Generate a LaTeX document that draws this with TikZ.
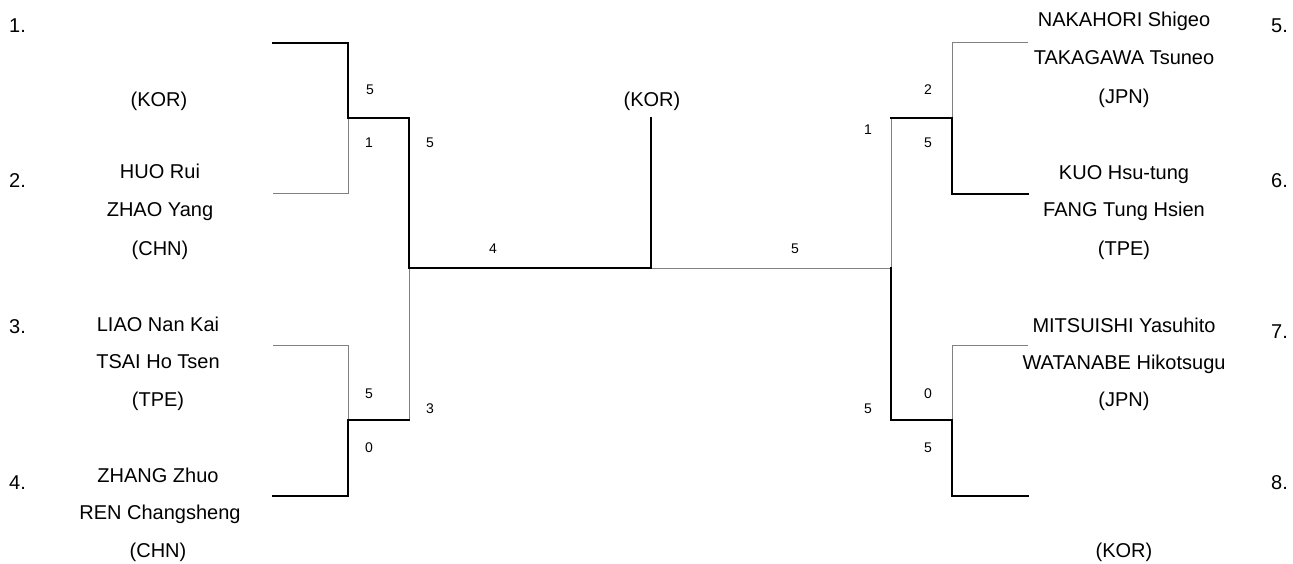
\documentclass[tikz,border=0pt]{standalone}
\usepackage{fontspec}
\setmainfont{Liberation Sans}
\tikzset{
  win/.style={line width=2pt,black,line cap=rect},
  lose/.style={line width=1pt,black!50},
  pname/.style={font=\fontsize{20}{20}\selectfont,inner sep=0pt,anchor=base},
  seed/.style={font=\fontsize{20}{20}\selectfont,inner sep=0pt,anchor=base west},
  score/.style={font=\fontsize{14}{14}\selectfont,inner sep=0pt,anchor=base},
}
\begin{document}
\begin{tikzpicture}[x=1pt,y=-1pt]
\useasboundingbox (0,0) rectangle (1293,564);

% ---- bracket points ----
% left
\coordinate (p1) at (273,43);
\coordinate (p2) at (273,194);
\coordinate (p3) at (273,345);
\coordinate (p4) at (273,496);
\coordinate (a1) at (348,43);
\coordinate (a2) at (348,194);
\coordinate (a3) at (348,345);
\coordinate (a4) at (348,496);
\coordinate (m12) at (348,118);
\coordinate (m34) at (348,420);
\coordinate (s1) at (409,118);
\coordinate (s2) at (409,420);
\coordinate (sL) at (409,268);
% centre
\coordinate (fC) at (651,268);
\coordinate (fT) at (651,118);
% right
\coordinate (sR) at (891,268);
\coordinate (s3) at (891,118);
\coordinate (s4) at (891,420);
\coordinate (m56) at (952,118);
\coordinate (m78) at (952,420);
\coordinate (b5) at (952,43);
\coordinate (b6) at (952,194);
\coordinate (b7) at (952,345);
\coordinate (b8) at (952,496);
\coordinate (p5) at (1028,43);
\coordinate (p6) at (1028,194);
\coordinate (p7) at (1028,345);
\coordinate (p8) at (1028,496);

% ---- lines ----
\draw[lose] (p2) -- (a2) -- (m12);
\draw[lose] (p3) -- (a3) -- (m34);
\draw[lose] (sL) -- (s2);
\draw[lose] (fC) -- (sR);
\draw[lose] (s3) -- (sR);
\draw[lose] (p5) -- (b5) -- (m56);
\draw[lose] (p7) -- (b7) -- (m78);

\draw[win] (p1) -- (a1) -- (m12) -- (s1) -- (sL) -- (fC) -- (fT);
\draw[win] (p4) -- (a4) -- (m34) -- (s2);
\draw[win] (p6) -- (b6) -- (m56) -- (s3);
\draw[win] (p8) -- (b8) -- (m78) -- (s4) -- (sR);

% ---- seeds ----
\node[seed] (n1) at (9,33) {1.};
\node[seed] (n2) at (9,188) {2.};
\node[seed] (n3) at (9,333) {3.};
\node[seed] (n4) at (9,489) {4.};
\node[seed] (n5) at (1271,33) {5.};
\node[seed] (n6) at (1271,188) {6.};
\node[seed] (n7) at (1271,338) {7.};
\node[seed] (n8) at (1271,489) {8.};

% ---- names, left ----
\node[pname] (t1c) at (159,107) {(KOR)};
\node[pname] (t2a) at (160,179) {HUO Rui};
\node[pname] (t2b) at (160,217) {ZHAO Yang};
\node[pname] (t2c) at (160,255) {(CHN)};
\node[pname] (t3a) at (158,331) {LIAO Nan Kai};
\node[pname] (t3b) at (158,368) {TSAI Ho Tsen};
\node[pname] (t3c) at (158,406) {(TPE)};
\node[pname] (t4a) at (158,482) {ZHANG Zhuo};
\node[pname] (t4b) at (160,519) {REN Changsheng};
\node[pname] (t4c) at (158,557) {(CHN)};

% ---- names, right ----
\node[pname] (t5a) at (1124,27) {NAKAHORI Shigeo};
\node[pname] (t5b) at (1124,65) {TAKAGAWA Tsuneo};
\node[pname] (t5c) at (1124,104) {(JPN)};
\node[pname] (t6a) at (1124,180) {KUO Hsu-tung};
\node[pname] (t6b) at (1124,217) {FANG Tung Hsien};
\node[pname] (t6c) at (1124,255) {(TPE)};
\node[pname] (t7a) at (1124,332) {MITSUISHI Yasuhito};
\node[pname] (t7b) at (1124,369) {WATANABE Hikotsugu};
\node[pname] (t7c) at (1124,406) {(JPN)};
\node[pname] (t8c) at (1124,557) {(KOR)};

% ---- champion ----
\node[pname] (champ) at (652,107) {(KOR)};

% ---- scores ----
\node[score] (c1) at (370,95) {5};
\node[score] (c2) at (369,148) {1};
\node[score] (c3) at (430,148) {5};
\node[score] (c4) at (369,398) {5};
\node[score] (c5) at (369,452) {0};
\node[score] (c6) at (430,413) {3};
\node[score] (c7) at (493,253) {4};
\node[score] (c8) at (795,253) {5};
\node[score] (c9) at (868,135) {1};
\node[score] (c10) at (868,413) {5};
\node[score] (c11) at (928,95) {2};
\node[score] (c12) at (928,148) {5};
\node[score] (c13) at (928,398) {0};
\node[score] (c14) at (928,452) {5};
\end{tikzpicture}
\end{document}
